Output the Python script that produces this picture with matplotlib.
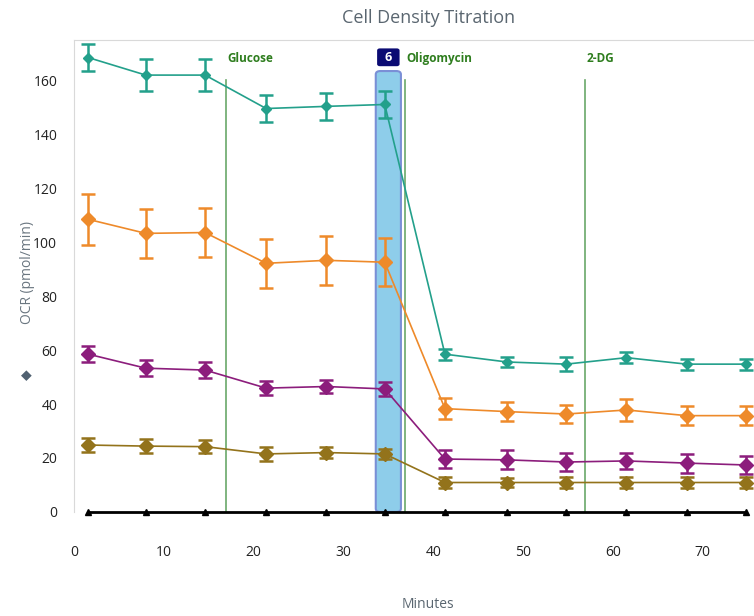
import numpy as np
import matplotlib.pyplot as plt
from matplotlib.patches import FancyBboxPatch, Rectangle

plt.rcParams['font.family'] = ['Open Sans', 'DejaVu Sans']

# measurement times (minutes)
minutes = [1.6, 8.0, 14.6, 21.4, 28.1, 34.6, 41.3, 48.2, 54.8, 61.5, 68.2, 74.8]

# OCR values (pmol/min) and error bars per group
teal = [168.5, 162.0, 162.0, 149.6, 150.4, 151.1, 58.5, 55.6, 54.8, 57.2, 54.8, 54.8]
teal_err = [5, 6, 6, 5, 5, 5, 2, 2, 2.5, 2, 2, 2]
orange = [108.5, 103.3, 103.6, 92.2, 93.3, 92.6, 38.3, 37.2, 36.3, 37.8, 35.7, 35.7]
orange_err = [9.5, 9, 9, 9, 9, 9, 4, 3.5, 3.5, 4, 3.5, 3.5]
purple = [58.5, 53.3, 52.6, 45.9, 46.5, 45.6, 19.6, 19.3, 18.5, 18.9, 18.1, 17.4]
purple_err = [3, 3, 3, 2.5, 2.5, 2.5, 3.5, 3.5, 3.5, 3, 3.5, 3.5]
olive = [24.8, 24.4, 24.2, 21.5, 22.0, 21.5, 10.9, 10.9, 10.9, 10.9, 10.9, 10.9]
olive_err = [2.5, 2.5, 2.5, 2.5, 2, 2, 2, 1.5, 2, 2, 2, 2]
blank = [0] * 12

# injections
inj_names = ['Glucose', 'Oligomycin', '2-DG']
inj_times = [16.9, 36.9, 56.9]

fig = plt.figure(figsize=(7.54, 6.16), dpi=100)
ax = fig.add_axes([0.098, 0.169, 0.902, 0.766])

# highlighted measurement 6
band = FancyBboxPatch((33.6, 0), 2.8, 163.5, boxstyle='round,pad=0,rounding_size=0.5',
                      mutation_aspect=2.5, facecolor='#8ecdea', edgecolor='#7a8fd6',
                      linewidth=1.5, zorder=1)
ax.add_patch(band)
badge = FancyBboxPatch((33.75, 165.3), 2.5, 6.6, boxstyle='round,pad=0,rounding_size=0.3',
                       mutation_aspect=2.5, facecolor='#0b0b73', edgecolor='none',
                       zorder=3, clip_on=False)
ax.add_patch(badge)
ax.text(35.0, 168.6, '6', color='white', fontsize=9, fontweight='bold',
        ha='center', va='center', zorder=4, clip_on=False)

for name, t in zip(inj_names, inj_times):
    ax.plot([t, t], [0, 160], color='#6aa86a', linewidth=1.2, zorder=2)
    txt = ax.text(t + 0.15, 168.2, name, color='#2e7d1e', fontsize=8.5, fontweight='bold',
                  ha='left', va='center', zorder=4)
    if name == 'Oligomycin':
        clip = Rectangle((t, 150), 6.9, 30, transform=ax.transData)
        txt.set_clip_path(clip)

series = [
    (teal, teal_err, '#23a08b', 5),
    (orange, orange_err, '#ee8a2a', 7),
    (purple, purple_err, '#8c1d7c', 7),
    (olive, olive_err, '#93731b', 7),
]
for vals, err, col, ms in series:
    ax.errorbar(minutes, vals, yerr=err, color=col, marker='D', markersize=ms,
                markeredgecolor=col, linewidth=1.2, elinewidth=1.8, capsize=5,
                capthick=1.8, zorder=5)

ax.plot(minutes, blank, color='black', linewidth=2, marker='^', markersize=4, zorder=6,
        clip_on=False)

ax.set_xlim(0, 75.7)
ax.set_ylim(0, 175)
ax.set_xticks(np.arange(0, 80, 10))
ax.set_yticks(np.arange(0, 180, 20))
ax.tick_params(length=0, labelsize=10, colors='#222222')
ax.tick_params(axis='x', pad=24)
ax.tick_params(axis='y', pad=12)
for s in ['top', 'left']:
    ax.spines[s].set_color('#d9d9d9')
ax.spines['right'].set_visible(False)
ax.spines['bottom'].set_visible(False)

fig.text(0.568, 0.97, 'Cell Density Titration', ha='center', va='center',
         fontsize=13, color='#5a6670')
fig.text(0.568, 0.018, 'Minutes', ha='center', va='center', fontsize=10, color='#5a6670')
fig.text(0.036, 0.392, '\u25c6', ha='center', va='center', fontsize=10, color='#4f6070',
         rotation=90)
fig.text(0.036, 0.558, 'OCR (pmol/min)', ha='center', va='center', fontsize=10,
         color='#6a7680', rotation=90)

fig.savefig('out.png', dpi=100)
